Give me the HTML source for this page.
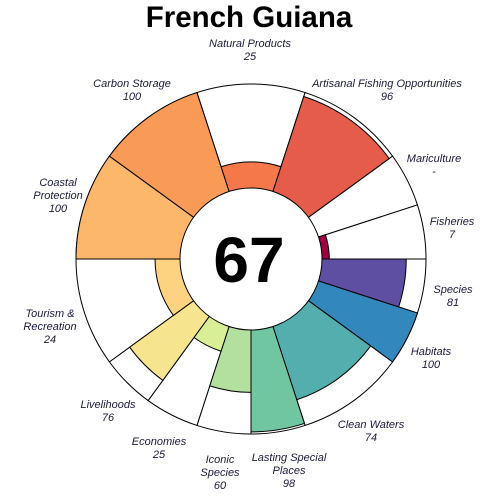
<!DOCTYPE html>
<html><head><meta charset="utf-8"><style>
body{margin:0;background:#fff}
svg{display:block;font-family:"Liberation Sans",sans-serif}
.lb{font-style:italic;font-size:11px;fill:#1a1a3a}
</style></head><body>
<svg id="chart" width="504" height="504">
<text x="249" y="27" text-anchor="middle" font-size="29.5" font-weight="bold">French Guiana</text>
<g id="petals"></g>
<g id="labels"></g>
</svg>
<script>
const goals = ["Natural Products","Artisanal Fishing Opportunities","Mariculture","Fisheries","Species","Habitats","Clean Waters","Lasting Special Places","Iconic Species","Economies","Livelihoods","Tourism & Recreation","Coastal Protection","Carbon Storage"];
const scores = [25,96,null,7,81,100,74,98,60,25,76,24,100,100];
const weights = [1,1,0.5,0.5,0.5,0.5,1,0.5,0.5,0.5,0.5,1,1,1];
const colors = ["#f4784a","#e65c4b","#f46d43","#9e0142","#5e4fa2","#3288bd","#54aead","#71c6a2","#b3df9f","#d8ef95","#f6e48e","#fdd280","#fdb76a","#f99b56"];
const scoreLabels = ["25","96","-","7","81","100","74","98","60","25","76","24","100","100"];
const labelLines = [["Natural Products"],["Artisanal Fishing Opportunities"],["Mariculture"],["Fisheries"],["Species"],["Habitats"],["Clean Waters"],["Lasting Special","Places"],["Iconic","Species"],["Economies"],["Livelihoods"],["Tourism &","Recreation"],["Coastal","Protection"],["Carbon Storage"]];
const labelPos = [[250,47],[387,87],[434,162],[452,225],[453,293],[431,355],[371,428],[289,461],[220,463],[159,445],[108,408],[50,317],[58,186],[132,87]];
const overall = 67;
const cx=251, cy=259, rIn=71, rOut=175;
const NS="http://www.w3.org/2000/svg";
const rad = s => rIn + (rOut-rIn)*s/100;
function pt(r,a){const t=a*Math.PI/180;return [cx+r*Math.sin(t), cy-r*Math.cos(t)];}
function wedge(r,a0,a1){const p0=pt(r,a0),p1=pt(r,a1);return `M${cx},${cy}L${p0[0]},${p0[1]}A${r},${r} 0 0 1 ${p1[0]},${p1[1]}Z`;}
const total = weights.reduce((a,b)=>a+b,0);
const g=document.getElementById('petals');
let a=-18;
const spans=[];
weights.forEach((w,i)=>{const s=360*w/total;spans.push([a,a+s]);a+=s;});
spans.forEach((sp,i)=>{
  const p=document.createElementNS(NS,'path');
  p.setAttribute('d',wedge(rOut,sp[0],sp[1]));p.setAttribute('fill','#fff');p.setAttribute('stroke','#000');p.setAttribute('stroke-width','1');
  
  
  g.appendChild(p);
});
spans.forEach((sp,i)=>{
  if(scores[i]==null) return;
  const p=document.createElementNS(NS,'path');
  p.setAttribute('d',wedge(rad(scores[i]),sp[0],sp[1]));p.setAttribute('fill',colors[i]);p.setAttribute('stroke','#000');p.setAttribute('stroke-width','1');
  
  
  g.appendChild(p);
});
const c=document.createElementNS(NS,'circle');
c.setAttribute('cx',cx);c.setAttribute('cy',cy);c.setAttribute('r',rIn);c.setAttribute('fill','#fff');c.setAttribute('stroke','#000');


g.appendChild(c);
const t=document.createElementNS(NS,'text');
t.setAttribute('x',cx-2);t.setAttribute('y',cy+23);t.setAttribute('text-anchor','middle');t.setAttribute('font-size','64');t.setAttribute('font-weight','bold');
t.textContent=overall;


g.appendChild(t);
const lg=document.getElementById('labels');
labelLines.forEach((lines,i)=>{
  const tx=document.createElementNS(NS,'text');
  tx.setAttribute('class','lb');tx.setAttribute('text-anchor','middle');
  
  
  const all=lines.concat([scoreLabels[i]]);
  all.forEach((ln,j)=>{
    const ts=document.createElementNS(NS,'tspan');
    ts.setAttribute('x',labelPos[i][0]);ts.setAttribute('y',labelPos[i][1]+13*j);
    ts.textContent=ln;tx.appendChild(ts);
  });
  lg.appendChild(tx);
});
</script>
</body></html>
